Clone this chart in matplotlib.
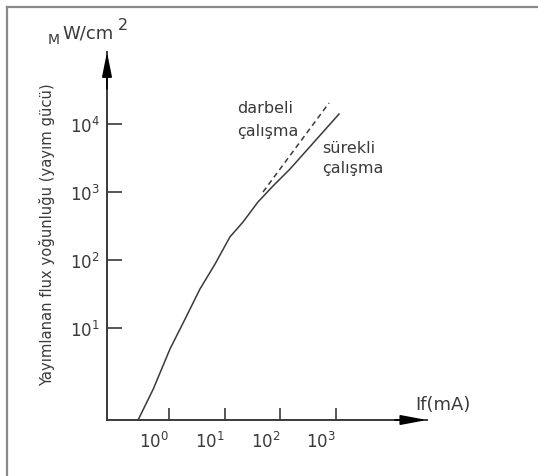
import matplotlib
matplotlib.use("Agg")
import matplotlib.pyplot as plt
from matplotlib.lines import Line2D

# ---- data ----
cont_x = [0.281, 0.523, 1.04, 1.94, 3.6, 6.7, 12.4, 21.3, 39.6, 73.6, 149, 1127]
cont_y = [0.45, 1.27, 4.9, 13.5, 37.5, 87, 218, 362, 713, 1225, 2180, 14000]
pulse_x = [48.7, 746]
pulse_y = [1000, 20400]
xticks = [1, 10, 100, 1000]
xticklabels = [r"$10^{0}$", r"$10^{1}$", r"$10^{2}$", r"$10^{3}$"]
yticks = [10, 100, 1000, 10000]
yticklabels = [r"$10^{1}$", r"$10^{2}$", r"$10^{3}$", r"$10^{4}$"]

W, H = 538, 477
fig = plt.figure(figsize=(W / 100, H / 100), dpi=100)
fig.patch.set_facecolor("white")

def fx(x):
    return x / W

def fy(y):
    return 1 - y / H

# frame (top and left only)
fig.add_artist(Line2D([fx(7), 1], [fy(8), fy(8)], color="#8a8a8a", lw=1.6))
fig.add_artist(Line2D([fx(7), fx(7)], [fy(8), 0], color="#8a8a8a", lw=1.6))

ax_left, ax_right, ax_bottom, ax_top = 107, 427, 421, 53
ax = fig.add_axes([fx(ax_left), fy(ax_bottom), (ax_right - ax_left) / W, (ax_bottom - ax_top) / H])
ax.set_xscale("log")
ax.set_yscale("log")
ax.set_xlim(10 ** -1.113, 10 ** 4.632)
ax.set_ylim(10 ** -0.353, 10 ** 5.059)
ax.patch.set_alpha(0)

lc = "#3a3a3a"
for s in ["top", "right"]:
    ax.spines[s].set_visible(False)
for s in ["left", "bottom"]:
    ax.spines[s].set_color(lc)
    ax.spines[s].set_linewidth(1.4)

ax.set_xticks(xticks)
ax.set_xticklabels(xticklabels)
ax.set_yticks(yticks)
ax.set_yticklabels(yticklabels)
ax.minorticks_off()
ax.tick_params(axis="x", direction="in", length=8.6, width=1.2, color=lc, labelsize=12,
               labelcolor="#3a3a3a", pad=8)
ax.tick_params(axis="y", direction="in", length=11, width=1.2, color=lc, labelsize=12,
               labelcolor="#3a3a3a", pad=5)
for lab in ax.get_xticklabels():
    lab.set_horizontalalignment("right")

# arrows at axis ends
ax.annotate("", xy=(0, 1), xytext=(0, 0.9), xycoords="axes fraction",
            arrowprops=dict(arrowstyle="-|>,head_length=1.5,head_width=0.3", color="black", lw=1.2,
                            shrinkA=0, shrinkB=0))
ax.annotate("", xy=(1, 0), xytext=(0.9, 0), xycoords="axes fraction",
            arrowprops=dict(arrowstyle="-|>,head_length=1.6,head_width=0.3", color="black", lw=1.2,
                            shrinkA=0, shrinkB=0))

# curves
ax.plot(cont_x, cont_y, color="#3a3a3a", lw=1.1, clip_on=False)
ax.plot(pulse_x, pulse_y, color="#3a3a3a", lw=1.1, dashes=(3.5, 2.5), clip_on=False)

tc = "#3a3a3a"
# axis titles
fig.text(fx(48), fy(44), "M", fontsize=10, color=tc, ha="left", va="baseline")
fig.text(fx(62), fy(39), "W/cm", fontsize=13, color=tc, ha="left", va="baseline")
fig.text(fx(118), fy(30), "2", fontsize=11.5, color=tc, ha="left", va="baseline")
fig.text(fx(47), fy(235), "Yayımlanan flux yoğunluğu (yayım gücü)", fontsize=10.6, color=tc,
         rotation=90, ha="center", va="center")
fig.text(fx(415), fy(396), "If(mA)", fontsize=13, color=tc, ha="left", va="top")

# curve labels
fig.text(fx(237), fy(101), "darbeli", fontsize=11.5, color=tc, ha="left", va="top")
fig.text(fx(237), fy(124), "çalışma", fontsize=11.5, color=tc, ha="left", va="top")
fig.text(fx(322), fy(141), "sürekli", fontsize=11.5, color=tc, ha="left", va="top")
fig.text(fx(322), fy(161), "çalışma", fontsize=11.5, color=tc, ha="left", va="top")

fig.savefig("out.png", dpi=100)
